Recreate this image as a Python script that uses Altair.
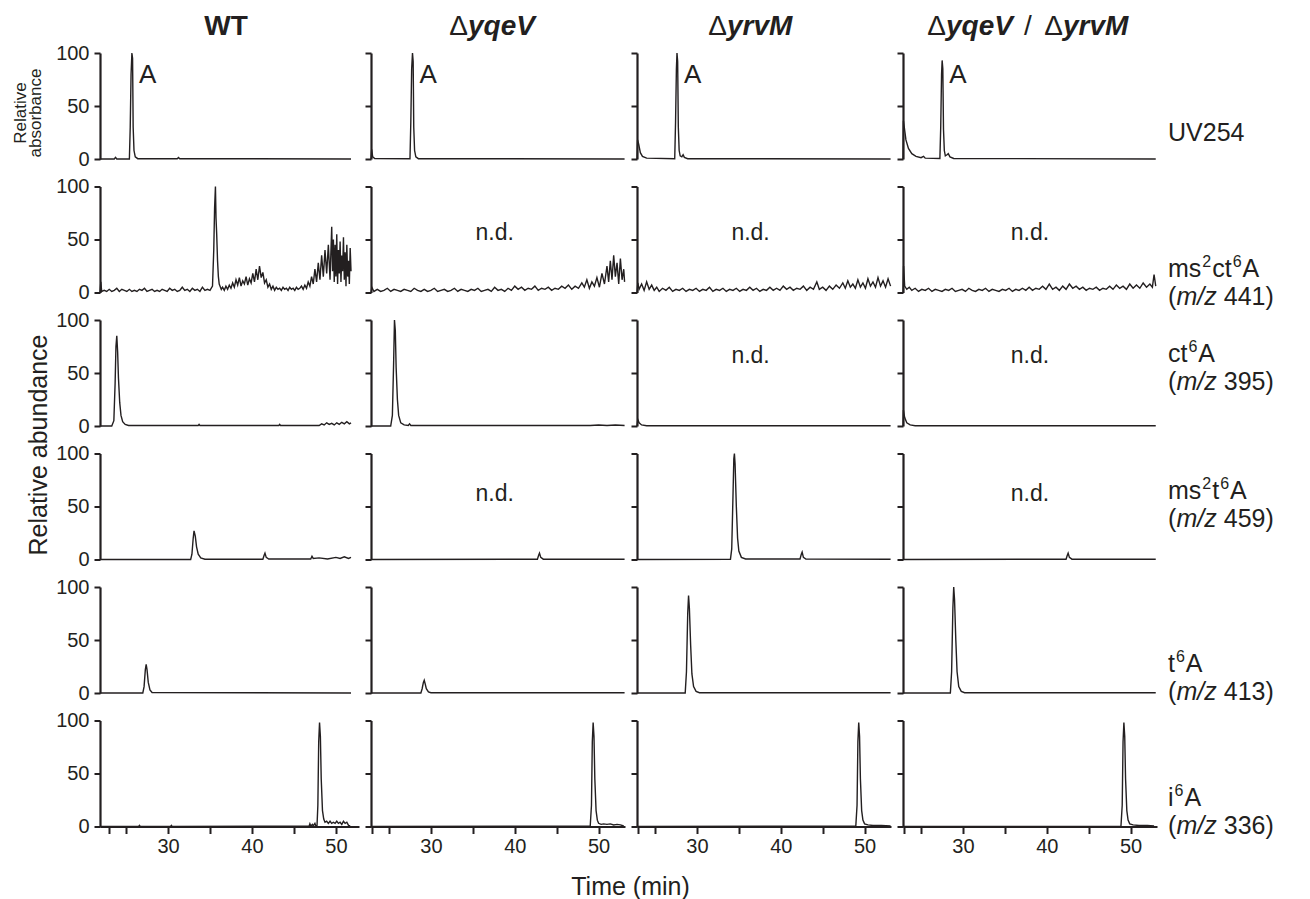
import altair as alt
import pandas as pd

INK = "#231f20"
FONT = "Liberation Sans"

# ---------------- axes / layout values ----------------
XDOM = [[21.9, 52.75], [22.85, 53.15], [22.85, 53.15], [22.85, 53.15]]
WIDTH = [259, 254, 254, 254]
H = 106
X_TICKS = [23, 25, 30, 35, 40, 45, 50]
Y_TICKS = [0, 50, 100]

# ---------------- traces: [time (min), relative signal] ----------------
WT_UV = [[21.9, 0], [23.6, 0], [23.75, 1.5], [23.9, 0], [25.4, 0], [25.5, 30], [25.6, 80], [25.7, 100],
         [25.78, 95], [25.85, 30], [25.95, 8], [26.1, 2], [26.4, 0.3], [31.1, 0.3], [31.25, 1.5],
         [31.4, 0.3], [51.8, 0]]
YQEV_UV = [[22.85, 0], [22.93, 9], [23.05, 2], [23.3, 0.5], [27.5, 0.3], [27.6, 35], [27.7, 85],
           [27.8, 100], [27.88, 92], [27.95, 30], [28.05, 8], [28.2, 2], [28.5, 0.3], [53.1, 0]]
YRVM_UV = [[22.85, 0], [22.92, 18], [23.05, 14], [23.25, 6], [23.5, 2.5], [24.0, 0.8], [27.35, 0.3],
           [27.45, 35], [27.55, 85], [27.62, 100], [27.7, 92], [27.78, 30], [27.88, 8], [28.0, 3],
           [28.2, 2], [28.35, 4], [28.5, 1.5], [28.9, 0.3], [53.1, 0]]
DD_UV = [[22.85, 0], [22.9, 36], [23.0, 30], [23.2, 18], [23.5, 10], [23.9, 5], [24.4, 2.5], [25.0, 1.2],
         [25.3, 2.5], [25.5, 0.8], [27.25, 0.5], [27.35, 30], [27.45, 80], [27.52, 93], [27.6, 85],
         [27.68, 28], [27.78, 8], [27.9, 3], [28.1, 4], [28.25, 5], [28.45, 2], [28.9, 0.5], [53.0, 0]]

WT_MS2CT = [[21.9, 0], [22.0, 10], [22.1, 1], [22.4, 2], [22.7, 1], [23.0, 3], [23.3, 1], [23.6, 2],
            [23.9, 4], [24.2, 1], [24.5, 3], [24.8, 2], [25.1, 1], [25.4, 3], [25.7, 1], [26.0, 2],
            [26.3, 1], [26.6, 3], [26.9, 2], [27.2, 4], [27.5, 1], [27.8, 2], [28.1, 3], [28.4, 1],
            [28.7, 2], [29.0, 1], [29.3, 3], [29.6, 2], [29.9, 1], [30.2, 4], [30.5, 2], [30.8, 3],
            [31.1, 1], [31.4, 2], [31.7, 5], [32.0, 2], [32.3, 3], [32.6, 1], [32.9, 4], [33.2, 2],
            [33.5, 3], [33.8, 1], [34.1, 5], [34.4, 2], [34.7, 3], [35.0, 2], [35.3, 6], [35.45, 40],
            [35.55, 80], [35.65, 100], [35.72, 70], [35.8, 55], [35.9, 30], [36.0, 15], [36.1, 8],
            [36.2, 6], [36.35, 3], [36.5, 5], [36.7, 2], [36.9, 6], [37.1, 3], [37.3, 7], [37.5, 4],
            [37.7, 9], [37.9, 5], [38.1, 12], [38.3, 7], [38.5, 14], [38.7, 6], [38.9, 11], [39.1, 8],
            [39.3, 15], [39.5, 7], [39.7, 13], [39.9, 9], [40.1, 18], [40.3, 10], [40.5, 22], [40.7, 12],
            [40.9, 25], [41.1, 14], [41.3, 19], [41.5, 9], [41.7, 12], [41.9, 5], [42.1, 8], [42.3, 3],
            [42.5, 6], [42.7, 2], [42.9, 5], [43.1, 3], [43.3, 4], [43.5, 2], [43.7, 5], [43.9, 3],
            [44.1, 4], [44.3, 2], [44.5, 5], [44.7, 3], [44.9, 4], [45.1, 2], [45.3, 5], [45.5, 3],
            [45.7, 4], [45.9, 6], [46.1, 3], [46.3, 7], [46.5, 4], [46.7, 10], [46.9, 6], [47.1, 15],
            [47.3, 8], [47.5, 22], [47.7, 10], [47.9, 28], [48.1, 12], [48.3, 35], [48.5, 15],
            [48.7, 40], [48.9, 18], [49.1, 45], [49.3, 12], [49.5, 62], [49.6, 20], [49.7, 50],
            [49.8, 10], [49.9, 45], [50.0, 15], [50.1, 55], [50.2, 8], [50.3, 40], [50.4, 18],
            [50.5, 48], [50.6, 10], [50.7, 35], [50.8, 20], [50.9, 52], [51.0, 12], [51.1, 38],
            [51.2, 6], [51.3, 45], [51.4, 15], [51.5, 30], [51.6, 8], [51.7, 42], [51.8, 20]]
YQEV_MS2CT = [[22.85, 0], [22.95, 5], [23.2, 1], [23.6, 3], [24.0, 1], [24.4, 2], [24.8, 4], [25.2, 1],
              [25.6, 3], [26.0, 2], [26.4, 1], [26.8, 3], [27.2, 2], [27.6, 1], [28.0, 4], [28.4, 2],
              [28.8, 1], [29.2, 3], [29.6, 1], [30.0, 2], [30.4, 4], [30.8, 1], [31.2, 2], [31.6, 3],
              [32.0, 1], [32.4, 2], [32.8, 4], [33.2, 1], [33.6, 3], [34.0, 2], [34.4, 1], [34.8, 3],
              [35.2, 2], [35.6, 4], [36.0, 1], [36.4, 2], [36.8, 3], [37.2, 1], [37.6, 5], [38.0, 2],
              [38.4, 3], [38.8, 1], [39.2, 4], [39.6, 2], [40.0, 6], [40.4, 3], [40.8, 5], [41.2, 2],
              [41.6, 4], [42.0, 3], [42.4, 6], [42.8, 2], [43.2, 4], [43.6, 3], [44.0, 5], [44.4, 2],
              [44.8, 4], [45.2, 3], [45.6, 6], [46.0, 4], [46.4, 7], [46.8, 3], [47.2, 6], [47.6, 4],
              [48.0, 9], [48.3, 5], [48.6, 12], [48.9, 4], [49.2, 10], [49.5, 6], [49.8, 14], [50.1, 5],
              [50.4, 18], [50.7, 8], [51.0, 25], [51.2, 10], [51.4, 30], [51.6, 12], [51.8, 35],
              [52.0, 15], [52.2, 28], [52.4, 8], [52.6, 32], [52.8, 12], [53.0, 22], [53.1, 10]]
YRVM_MS2CT = [[22.85, 0], [22.95, 9], [23.1, 3], [23.4, 8], [23.7, 2], [24.0, 10], [24.3, 3], [24.6, 7],
              [24.9, 2], [25.2, 5], [25.5, 1], [25.9, 4], [26.3, 2], [26.7, 5], [27.1, 1], [27.5, 3],
              [27.9, 2], [28.3, 4], [28.7, 1], [29.1, 3], [29.5, 2], [29.9, 4], [30.3, 1], [30.7, 3],
              [31.1, 2], [31.5, 5], [31.9, 1], [32.3, 3], [32.7, 2], [33.1, 4], [33.5, 1], [33.9, 3],
              [34.3, 2], [34.7, 4], [35.1, 1], [35.5, 3], [35.9, 2], [36.3, 5], [36.7, 2], [37.1, 4],
              [37.5, 1], [37.9, 3], [38.3, 2], [38.7, 5], [39.1, 2], [39.5, 4], [39.9, 2], [40.3, 6],
              [40.7, 3], [41.1, 5], [41.5, 2], [41.9, 4], [42.3, 3], [42.7, 6], [43.1, 2], [43.5, 5],
              [43.9, 3], [44.3, 10], [44.6, 3], [45.0, 5], [45.4, 2], [45.8, 6], [46.2, 3], [46.6, 7],
              [47.0, 4], [47.4, 9], [47.7, 4], [48.0, 11], [48.3, 5], [48.6, 8], [48.9, 4], [49.2, 12],
              [49.5, 5], [49.8, 9], [50.1, 4], [50.4, 13], [50.7, 6], [51.0, 10], [51.3, 5], [51.6, 14],
              [51.9, 6], [52.2, 11], [52.5, 5], [52.8, 13], [53.1, 6]]
DD_MS2CT = [[22.85, 0], [22.92, 25], [23.05, 6], [23.3, 3], [23.6, 5], [23.9, 2], [24.3, 4], [24.7, 1],
            [25.1, 3], [25.5, 2], [25.9, 4], [26.3, 1], [26.7, 3], [27.1, 2], [27.5, 1], [27.9, 3],
            [28.3, 2], [28.7, 4], [29.1, 1], [29.5, 2], [29.9, 3], [30.3, 1], [30.7, 4], [31.1, 2],
            [31.5, 1], [31.9, 3], [32.3, 2], [32.7, 4], [33.1, 1], [33.5, 3], [33.9, 2], [34.3, 1],
            [34.7, 3], [35.1, 2], [35.5, 4], [35.9, 1], [36.3, 3], [36.7, 2], [37.1, 4], [37.5, 2],
            [37.9, 5], [38.3, 2], [38.7, 4], [39.1, 3], [39.5, 6], [39.9, 3], [40.3, 8], [40.7, 3],
            [41.1, 5], [41.5, 2], [41.9, 6], [42.3, 3], [42.7, 8], [43.1, 4], [43.5, 6], [43.9, 3],
            [44.3, 5], [44.7, 2], [45.1, 4], [45.5, 3], [45.9, 5], [46.3, 2], [46.7, 4], [47.1, 3],
            [47.5, 6], [47.9, 3], [48.3, 7], [48.7, 4], [49.1, 6], [49.5, 3], [49.9, 8], [50.3, 4],
            [50.7, 7], [51.1, 4], [51.5, 9], [51.9, 5], [52.3, 8], [52.6, 5], [52.8, 17], [53.0, 6]]

WT_CT = [[21.9, 0], [23.3, 0], [23.55, 5], [23.7, 40], [23.8, 75], [23.9, 85], [24.0, 70], [24.1, 45],
         [24.25, 22], [24.4, 10], [24.6, 4], [24.9, 1.5], [25.3, 0.5], [33.6, 0.5], [33.7, 1.5],
         [33.8, 0.5], [43.2, 0.5], [43.3, 1.5], [43.4, 0.5], [48.0, 0.5], [48.3, 2], [48.6, 1],
         [48.9, 3], [49.2, 1.5], [49.5, 2.5], [49.8, 1], [50.1, 3], [50.4, 1.5], [50.7, 3.5],
         [51.0, 2], [51.3, 4], [51.6, 2], [51.8, 3]]
YQEV_CT = [[22.85, 0], [25.2, 0], [25.4, 10], [25.55, 60], [25.65, 100], [25.75, 90], [25.85, 55],
           [26.0, 25], [26.15, 10], [26.4, 3], [26.8, 1], [27.3, 0.5], [27.45, 2], [27.6, 0.5],
           [49.0, 0.5], [50.0, 1], [51.0, 0.5], [52.0, 1], [53.1, 0.5]]
YRVM_CT = [[22.85, 0], [22.95, 6], [23.1, 3], [23.4, 1], [24.0, 0.3], [53.1, 0.3]]
DD_CT = [[22.85, 0], [22.9, 15], [23.05, 8], [23.3, 3], [23.7, 1], [24.3, 0.3], [53.0, 0.3]]

WT_MS2T = [[21.9, 0], [32.7, 0], [32.85, 5], [33.0, 20], [33.1, 27], [33.25, 22], [33.4, 12], [33.6, 5],
           [33.9, 1.5], [34.4, 0.3], [41.3, 0.3], [41.45, 4], [41.55, 6], [41.7, 2], [42.0, 0.5],
           [47.0, 0.5], [47.15, 3], [47.3, 1], [48.0, 1.5], [49.0, 0.5], [50.0, 2], [50.5, 1],
           [51.0, 2.5], [51.5, 1], [51.8, 2]]
YQEV_MS2T = [[22.85, 0], [42.7, 0.3], [42.85, 4], [42.95, 6], [43.1, 2], [43.4, 0.3], [53.1, 0.3]]
YRVM_MS2T = [[22.85, 0], [34.0, 0.3], [34.15, 10], [34.3, 60], [34.4, 95], [34.47, 100], [34.55, 90],
             [34.7, 50], [34.85, 20], [35.0, 8], [35.3, 2], [35.8, 0.5], [42.3, 0.5], [42.45, 5],
             [42.55, 7], [42.7, 2], [43.0, 0.5], [53.1, 0.3]]
DD_MS2T = [[22.85, 0], [42.3, 0.3], [42.45, 4], [42.55, 6], [42.7, 2], [43.0, 0.3], [53.0, 0.3]]

WT_T6 = [[21.9, 0], [27.0, 0], [27.15, 6], [27.3, 22], [27.4, 27], [27.5, 22], [27.65, 10], [27.85, 3],
         [28.1, 0.5], [51.8, 0]]
YQEV_T6 = [[22.85, 0], [28.8, 0], [28.95, 4], [29.1, 10], [29.2, 12], [29.3, 9], [29.45, 4], [29.7, 1],
           [30.0, 0.3], [53.1, 0.3]]
YRVM_T6 = [[22.85, 0], [28.6, 0], [28.75, 20], [28.9, 75], [29.0, 92], [29.1, 80], [29.25, 45],
           [29.4, 18], [29.6, 6], [29.9, 1.5], [30.3, 0.3], [53.1, 0.3]]
DD_T6 = [[22.85, 0], [28.5, 0], [28.65, 20], [28.8, 80], [28.9, 100], [29.0, 88], [29.15, 50],
         [29.3, 20], [29.5, 6], [29.8, 1.5], [30.2, 0.3], [53.0, 0.3]]

WT_I6 = [[21.9, 0], [26.5, 0], [26.6, 1], [26.7, 0], [30.3, 0], [30.4, 1], [30.5, 0], [46.8, 0.3],
         [46.9, 2.5], [47.0, 0.5], [47.2, 2], [47.3, 0.5], [47.5, 3], [47.6, 0.5], [47.75, 1],
         [47.85, 20], [47.95, 80], [48.05, 98], [48.15, 85], [48.25, 45], [48.4, 15], [48.55, 7],
         [48.7, 4], [48.9, 5], [49.1, 3], [49.3, 5], [49.5, 3], [49.7, 4], [49.9, 3], [50.1, 5],
         [50.3, 3], [50.5, 4], [50.7, 2], [50.9, 5], [51.1, 3], [51.3, 4], [51.5, 1], [51.7, 0.5]]
YQEV_I6 = [[22.85, 0], [49.0, 0.3], [49.15, 20], [49.25, 80], [49.35, 98], [49.45, 85], [49.55, 45],
           [49.7, 15], [49.85, 6], [50.0, 3], [50.3, 2], [50.6, 2.5], [51.0, 2], [51.4, 2.5],
           [51.8, 1.5], [52.2, 2], [52.6, 1.5], [53.0, 0.5]]
YRVM_I6 = [[22.85, 0], [48.95, 0.3], [49.1, 20], [49.2, 80], [49.3, 98], [49.4, 85], [49.5, 45],
           [49.65, 15], [49.8, 6], [50.0, 2.5], [50.4, 1.5], [51.0, 1], [52.0, 1], [53.1, 0.5]]
DD_I6 = [[22.85, 0], [48.85, 0.3], [49.0, 20], [49.1, 80], [49.2, 98], [49.3, 85], [49.4, 45],
         [49.55, 15], [49.7, 6], [49.9, 2.5], [50.3, 1.5], [51.0, 1], [52.0, 1], [52.8, 0.5]]

TRACES = [
    [WT_UV, YQEV_UV, YRVM_UV, DD_UV],
    [WT_MS2CT, YQEV_MS2CT, YRVM_MS2CT, DD_MS2CT],
    [WT_CT, YQEV_CT, YRVM_CT, DD_CT],
    [WT_MS2T, YQEV_MS2T, YRVM_MS2T, DD_MS2T],
    [WT_T6, YQEV_T6, YRVM_T6, DD_T6],
    [WT_I6, YQEV_I6, YRVM_I6, DD_I6],
]

# ---------------- text ----------------
# row names as pieces: (text, is_superscript)
ROW_PIECES = [
    [["UV254", 0]],
    [["ms", 0], ["2", 1], ["ct", 0], ["6", 1], ["A", 0]],
    [["ct", 0], ["6", 1], ["A", 0]],
    [["ms", 0], ["2", 1], ["t", 0], ["6", 1], ["A", 0]],
    [["t", 0], ["6", 1], ["A", 0]],
    [["i", 0], ["6", 1], ["A", 0]],
]
ROW_MZ = [None, "441)", "395)", "459)", "413)", "336)"]
ROW_LABEL_Y = [[80], [82, 110], [34, 62], [37, 65], [77, 105], [77, 105]]

A_PEAKS = [25.7, 27.8, 27.62, 27.52]          # adenosine peak times in UV254 row
ND_CELLS = [[1, 1], [1, 2], [1, 3], [2, 2], [2, 3], [3, 1], [3, 3]]
ND_X = {1: 37.6, 2: 36.4, 3: 38.0}
ND_Y = {1: 56, 2: 66, 3: 62}

# header pieces per column: text, x (px from panel left), align, weight, style
HEADERS = [
    [["WT", 126, "center", "bold", "normal"]],
    [["Δ", 97, "right", "normal", "normal"], ["yqeV", 97, "left", "bold", "italic"]],
    [["Δ", 90, "right", "normal", "normal"], ["yrvM", 90, "left", "bold", "italic"]],
    [["Δ", 43, "right", "normal", "normal"], ["yqeV", 43, "left", "bold", "italic"],
     ["/", 125, "center", "normal", "normal"],
     ["Δ", 160, "right", "normal", "normal"], ["yrvM", 160, "left", "bold", "italic"]],
]

# Arial / Liberation Sans advance widths (em) for label layout
ADV = {"m": 0.833, "s": 0.5, "c": 0.5, "t": 0.278, "i": 0.222, "A": 0.667, "U": 0.722, "V": 0.667,
       "2": 0.556, "5": 0.556, "4": 0.556, "6": 0.556}
LBL_SIZE = 25
SUP_SIZE = 16

DUMMY = pd.DataFrame({"k": [0]})


def ptext(txt, x, y, size, align="left", weight="normal", style="normal", angle=0):
    return alt.Chart(DUMMY).mark_text(
        text=txt, align=align, baseline="middle", font=FONT, fontSize=size,
        fontWeight=weight, fontStyle=style, color=INK, angle=angle
    ).encode(x=alt.value(x), y=alt.value(y))


def row_label(pieces, x0, y):
    out = []
    x = x0
    for txt, sup in pieces:
        size = SUP_SIZE if sup else LBL_SIZE
        out.append(ptext(txt, x, y - 7 if sup else y, size))
        x += sum(ADV[ch] for ch in txt) * size + 1
    return out


def make_panel(r, c):
    df = pd.DataFrame(TRACES[r][c], columns=["t", "v"])
    xs = alt.Scale(domain=XDOM[c], nice=False, zero=False)
    ys = alt.Scale(domain=[0, 100], nice=False, zero=False)
    if r == 5:
        xaxis = alt.Axis(values=X_TICKS, labelExpr="datum.value % 10 === 0 ? datum.label : ''",
                         tickSize=7, labelPadding=3, title=None, grid=False)
    else:
        xaxis = None
    yaxis = alt.Axis(values=Y_TICKS, labels=(c == 0), tickSize=6, labelPadding=5,
                     title=None, grid=False)

    def X():
        return alt.X("t:Q", scale=xs, axis=xaxis)

    def Y():
        return alt.Y("v:Q", scale=ys, axis=yaxis)

    layers = [alt.Chart(df).mark_line(color=INK, strokeWidth=1.4).encode(x=X(), y=Y())]

    if r == 0:
        adf = pd.DataFrame({"t": [A_PEAKS[c] + 0.85], "v": [79], "s": ["A"]})
        layers.append(alt.Chart(adf).mark_text(align="left", baseline="middle", font=FONT,
                                               fontSize=26, color=INK)
                      .encode(x=X(), y=Y(), text="s:N"))
        for txt, hx, al, wt, st in HEADERS[c]:
            layers.append(ptext(txt, hx, -26, 28, al, wt, st))
    if [r, c] in ND_CELLS:
        ndf = pd.DataFrame({"t": [ND_X[c]], "v": [ND_Y[r]], "s": ["n.d."]})
        layers.append(alt.Chart(ndf).mark_text(align="center", baseline="middle", font=FONT,
                                               fontSize=23, color=INK)
                      .encode(x=X(), y=Y(), text="s:N"))
    if c == 3:
        x0 = WIDTH[3] + 11
        ys_lbl = ROW_LABEL_Y[r]
        layers += row_label(ROW_PIECES[r], x0, ys_lbl[0])
        if ROW_MZ[r] is not None:
            layers.append(ptext("(", x0, ys_lbl[1], LBL_SIZE))
            layers.append(ptext("m/z", x0 + 8.5, ys_lbl[1], LBL_SIZE, style="italic"))
            layers.append(ptext(ROW_MZ[r], x0 + 8.5 + 40.3 + 7.0, ys_lbl[1], LBL_SIZE))
    if c == 0 and r == 0:
        layers.append(ptext("Relative", -79, 60, 17, align="center", angle=270))
        layers.append(ptext("absorbance", -64, 60, 17, align="center", angle=270))
    if c == 0 and r == 2:
        layers.append(ptext("Relative abundance", -61, 125, 25, align="center", angle=270))
    if c == 1 and r == 5:
        layers.append(ptext("Time (min)", 259.5, 166, 25, align="center"))

    return alt.layer(*layers).properties(width=WIDTH[c], height=H)


panels = [make_panel(r, c) for r in range(6) for c in range(4)]

chart = alt.concat(
    *panels, columns=4, spacing={"row": 27.5, "column": 12}, bounds="flush"
).properties(
    padding={"left": 4, "top": 5, "right": 5, "bottom": 0}
).configure_view(
    stroke=None
).configure_axis(
    domainColor=INK, domainWidth=2.2, tickColor=INK, tickWidth=2,
    labelFont=FONT, labelFontSize=20, labelColor=INK
)

chart.save("out.html", embed_options={"renderer": "svg", "actions": False})
